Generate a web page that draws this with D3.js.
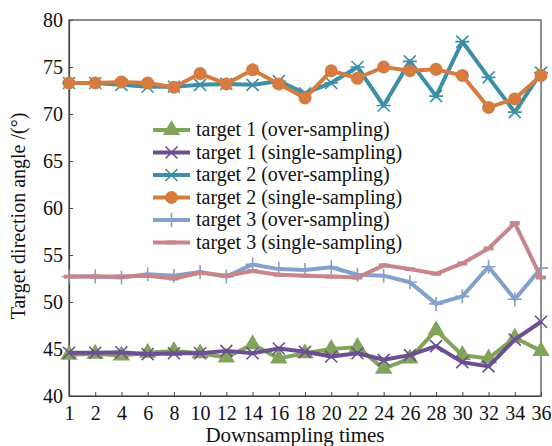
<!DOCTYPE html>
<html>
<head>
<meta charset="utf-8">
<script src="https://cdn.jsdelivr.net/npm/d3@7"></script>
<style>
  body { margin: 0; background: #fff; }
  svg text { font-family: "Liberation Serif", "DejaVu Serif", serif; fill: #111; }
</style>
</head>
<body>
<div id="chart"></div>
<script>
// so lan giam mau (truc x)
var times = ["1", "2", "4", "6", "8", "10", "12", "14", "16", "18", "20", "22", "24", "26", "28", "30", "32", "34", "36"];

// goc huong muc tieu, doc tu hinh
var t1Over   = [44.4, 44.5, 44.3, 44.6, 44.8, 44.55, 44.1, 45.5, 44.0, 44.55, 45.0, 45.2, 42.9, 44.0, 47.0, 44.35, 44.0, 46.2, 44.8];
var t1Single = [44.6, 44.6, 44.65, 44.45, 44.55, 44.55, 44.8, 44.55, 45.05, 44.7, 44.2, 44.55, 43.85, 44.35, 45.3, 43.6, 43.15, 46.0, 47.9];
var t2Over   = [73.3, 73.3, 73.1, 72.9, 72.9, 73.1, 73.2, 73.1, 73.5, 72.2, 73.3, 75.0, 70.9, 75.6, 71.9, 77.7, 73.9, 70.2, 74.4];
var t2Single = [73.3, 73.3, 73.4, 73.3, 72.85, 74.3, 73.2, 74.7, 73.2, 71.7, 74.6, 73.8, 75.0, 74.6, 74.75, 74.1, 70.7, 71.6, 74.1];
var t3Over   = [52.7, 52.7, 52.6, 52.95, 52.8, 53.2, 52.7, 54.0, 53.5, 53.4, 53.7, 52.9, 52.8, 52.1, 49.8, 50.6, 53.75, 50.3, 53.6];
var t3Single = [52.7, 52.7, 52.7, 52.8, 52.5, 53.1, 52.8, 53.3, 52.9, 52.8, 52.7, 52.6, 53.9, 53.5, 53.0, 54.1, 55.7, 58.4, 52.6];

var yTicks = [40, 45, 50, 55, 60, 65, 70, 75, 80];

var series = [
  { name: "target 1 (over-sampling)",   values: t1Over,   color: "#82a35a", marker: "triangle" },
  { name: "target 1 (single-sampling)", values: t1Single, color: "#6b4f92", marker: "cross" },
  { name: "target 2 (over-sampling)",   values: t2Over,   color: "#3d8fa6", marker: "asterisk" },
  { name: "target 2 (single-sampling)", values: t2Single, color: "#d67c40", marker: "circle" },
  { name: "target 3 (over-sampling)",   values: t3Over,   color: "#84a0cb", marker: "plus" },
  { name: "target 3 (single-sampling)", values: t3Single, color: "#c7868a", marker: "dash" }
];

var width = 552, height = 446;
var margin = { left: 69, right: 11, top: 20, bottom: 50 };

var svg = d3.select("#chart").append("svg")
    .attr("width", width)
    .attr("height", height);

var x = d3.scalePoint()
    .domain(times)
    .range([margin.left, width - margin.right])
    .padding(0);

var y = d3.scaleLinear()
    .domain([40, 80])
    .range([height - margin.bottom, margin.top]);

// khung
svg.append("rect")
    .attr("x", margin.left)
    .attr("y", margin.top)
    .attr("width", width - margin.right - margin.left)
    .attr("height", height - margin.bottom - margin.top)
    .attr("fill", "none")
    .attr("stroke", "#444")
    .attr("stroke-width", 1.2);

// truc x, vach huong vao trong
var xAxis = svg.append("g")
    .attr("transform", "translate(0," + (height - margin.bottom) + ")")
    .call(d3.axisBottom(x).tickSizeInner(-4).tickSizeOuter(0).tickPadding(10));
xAxis.select(".domain").attr("stroke", "#444").attr("stroke-width", 1.2);
xAxis.selectAll("line").attr("stroke", "#444");
xAxis.selectAll("text").style("font-size", "20px").attr("fill", "#111");

var yAxis = svg.append("g")
    .attr("transform", "translate(" + margin.left + ",0)")
    .call(d3.axisLeft(y).tickValues(yTicks).tickSizeInner(-4).tickSizeOuter(0).tickPadding(6));
yAxis.select(".domain").attr("stroke", "#444").attr("stroke-width", 1.2);
yAxis.selectAll("line").attr("stroke", "#444");
yAxis.selectAll("text").style("font-size", "20px").attr("fill", "#111");

// ten truc
svg.append("text")
    .attr("x", 295)
    .attr("y", 442)
    .attr("text-anchor", "middle")
    .style("font-size", "21px")
    .text("Downsampling times");

svg.append("text")
    .attr("transform", "translate(25," + 216 + ") rotate(-90)")
    .attr("text-anchor", "middle")
    .style("font-size", "20px")
    .text("Target direction angle /(°)");

// ve ky hieu
function drawMarker(g, type, color) {
  if (type == "triangle") {
    g.append("path").attr("d", d3.symbol().type(d3.symbolTriangle).size(130)())
      .attr("fill", color);
  } else if (type == "circle") {
    g.append("circle").attr("r", 6.5).attr("fill", color);
  } else if (type == "cross") {
    g.append("path").attr("d", "M-6,-6L6,6M-6,6L6,-6")
      .attr("stroke", color).attr("stroke-width", 1.6).attr("fill", "none");
  } else if (type == "asterisk") {
    g.append("path").attr("d", "M-6,-6L6,6M-6,6L6,-6M-7,0L7,0")
      .attr("stroke", color).attr("stroke-width", 1.6).attr("fill", "none");
  } else if (type == "plus") {
    g.append("path").attr("d", "M0,-7L0,7M-7,0L7,0")
      .attr("stroke", color).attr("stroke-width", 1.6).attr("fill", "none");
  } else if (type == "dash") {
    g.append("path").attr("d", "M-5,0L5,0")
      .attr("stroke", color).attr("stroke-width", 4).attr("fill", "none");
  }
}

var line = d3.line()
    .x(function(d, i) { return x(times[i]); })
    .y(function(d) { return y(d); });

// thu tu ve: target 3, target 1, target 2
var drawOrder = [4, 5, 0, 1, 2, 3];
drawOrder.forEach(function(k) {
  var s = series[k];
  var g = svg.append("g");
  g.append("path")
    .datum(s.values)
    .attr("d", line)
    .attr("fill", "none")
    .attr("stroke", s.color)
    .attr("stroke-width", 4)
    .attr("stroke-linejoin", "round");
  s.values.forEach(function(v, i) {
    var m = g.append("g").attr("transform", "translate(" + x(times[i]) + "," + y(v) + ")");
    drawMarker(m, s.marker, s.color);
  });
});

// chu giai
var legend = svg.append("g").attr("transform", "translate(153,130)");
series.forEach(function(s, i) {
  var row = legend.append("g").attr("transform", "translate(0," + (i * 22.5) + ")");
  row.append("line")
    .attr("x1", 0).attr("x2", 37)
    .attr("stroke", s.color).attr("stroke-width", 4);
  var m = row.append("g").attr("transform", "translate(18.5,0)");
  drawMarker(m, s.marker, s.color);
  row.append("text")
    .attr("x", 43)
    .attr("y", 6)
    .style("font-size", "20px")
    .text(s.name);
});
</script>
</body>
</html>
